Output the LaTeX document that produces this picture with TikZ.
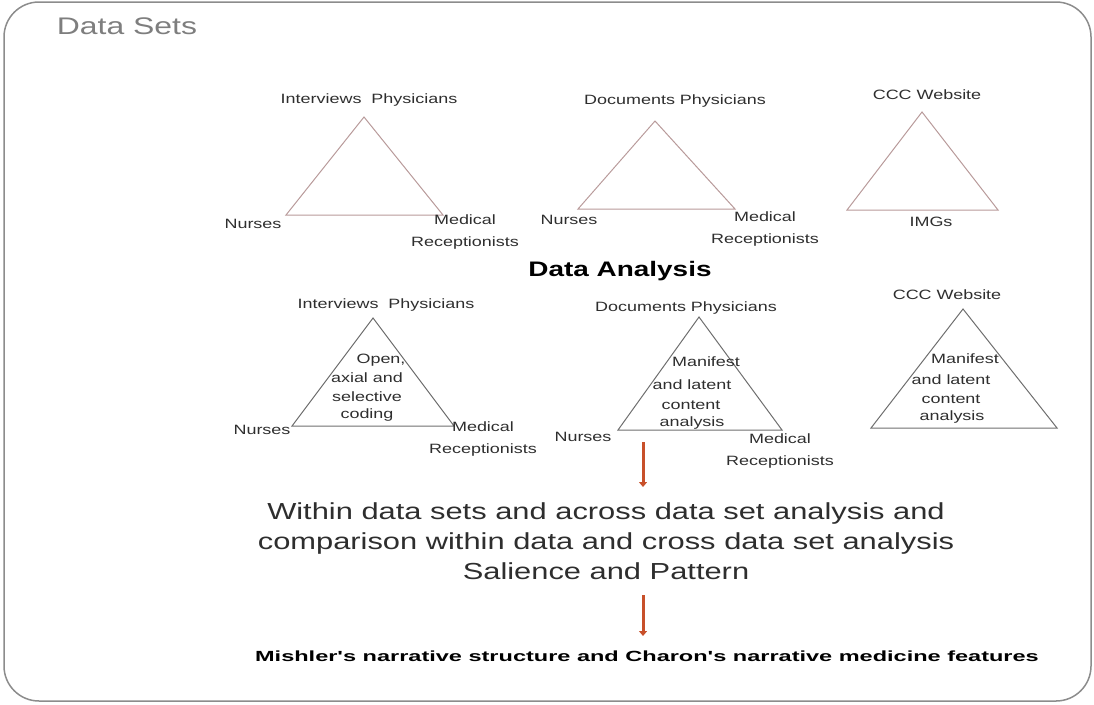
\documentclass[tikz,border=0pt]{standalone}
\usepackage{fontspec}
\setmainfont[FakeStretch=1.33]{Liberation Sans}
\newfontfamily\botfont[FakeStretch=1.6]{Liberation Sans}
\usetikzlibrary{arrows.meta}
\definecolor{txt}{HTML}{2E2E2E}
\definecolor{topline}{HTML}{B89A9A}
\definecolor{botline}{HTML}{6E6E6E}
\definecolor{arr}{HTML}{C8502A}
\definecolor{frame}{HTML}{8C8C8C}
\tikzset{
  lbl/.style={inner sep=0pt, text=txt, align=center, font=\fontsize{13.5}{22}\selectfont},
  inlbl/.style={inner sep=0pt, text=txt, font=\fontsize{13.5}{16}\selectfont},
  toptri/.style={draw=topline, line width=1pt},
  bottri/.style={draw=botline, line width=1pt},
  flow/.style={draw=arr, line width=3pt, -{Triangle[width=8pt,length=5pt]}},
}
\begin{document}
\begin{tikzpicture}[x=1pt,y=-1pt]
\useasboundingbox (0,0) rectangle (1094,704);
\draw[frame, line width=1.5pt, rounded corners=35pt] (4,2) rectangle (1091,701);
\node[inner sep=0pt, text=frame!90!black, font=\fontsize{24}{28}\selectfont] (ds) at (127,26) {Data Sets};

% top row
\draw[toptri] (364,117) -- (286,215) -- (443,215) -- cycle;
\node[lbl] (t1a) at (369,100) {Interviews\ \ Physicians};
\node[lbl] (t1b) at (253,224) {Nurses};
\node[lbl] (t1c) at (465,232) {Medical\\Receptionists};

\draw[toptri] (655,121) -- (578,209) -- (735,209) -- cycle;
\node[lbl] (t2a) at (675,101) {Documents Physicians};
\node[lbl] (t2b) at (569,220) {Nurses};
\node[lbl] (t2c) at (765,229) {Medical\\Receptionists};

\draw[toptri] (922,112) -- (847,210) -- (998,210) -- cycle;
\node[lbl] (t3a) at (927,95) {CCC Website};
\node[lbl] (t3b) at (931,222) {IMGs};

\node[inner sep=0pt, text=black, font=\fontsize{21}{24}\selectfont\bfseries] (da) at (620,271) {Data Analysis};

% bottom row
\draw[bottri] (373,318) -- (292,426) -- (454,426) -- cycle;
\node[lbl] (b1a) at (386,305) {Interviews\ \ Physicians};
\node[lbl] (b1b) at (262,430) {Nurses};
\node[lbl] (b1c) at (483,439) {Medical\\Receptionists};
\node[inlbl] (b1i1) at (381,360) {Open,};
\node[inlbl] (b1i2) at (367,378) {axial and};
\node[inlbl] (b1i3) at (367,397) {selective};
\node[inlbl] (b1i4) at (367,415) {coding};

\draw[bottri] (699,317) -- (618,430) -- (782,430) -- cycle;
\node[lbl] (b2a) at (686,308) {Documents Physicians};
\node[lbl] (b2b) at (583,437) {Nurses};
\node[lbl] (b2c) at (780,451) {Medical\\Receptionists};
\node[inlbl] (b2i1) at (706,362) {Manifest};
\node[inlbl] (b2i2) at (692,385) {and latent};
\node[inlbl] (b2i3) at (691,405) {content};
\node[inlbl] (b2i4) at (692,423) {analysis};

\draw[bottri] (963,309) -- (871,428) -- (1057,428) -- cycle;
\node[lbl] (b3a) at (947,295) {CCC Website};
\node[inlbl] (b3i1) at (965,359) {Manifest};
\node[inlbl] (b3i2) at (951,380) {and latent};
\node[inlbl] (b3i3) at (951,399) {content};
\node[inlbl] (b3i4) at (952,417) {analysis};

% flow
\coordinate (a1s) at (643,442);
\node[inner sep=0pt, text=txt, align=center, font=\fontsize{23.2}{30}\selectfont] (mid) at (606,541) {Within data sets and across data set analysis and\\comparison within data and cross data set analysis\\Salience and Pattern};
\coordinate (a1e) at (643,487);
\coordinate (a2s) at (643,595);
\coordinate (a2e) at (643,636);
\node[inner sep=0pt, text=black, font=\botfont\fontsize{14.7}{18}\selectfont\bfseries] (fin) at (647,656) {Mishler's narrative structure and Charon's narrative medicine features};
\draw[flow] (a1s) -- (a1e);
\draw[flow] (a2s) -- (a2e);
\end{tikzpicture}
\end{document}
